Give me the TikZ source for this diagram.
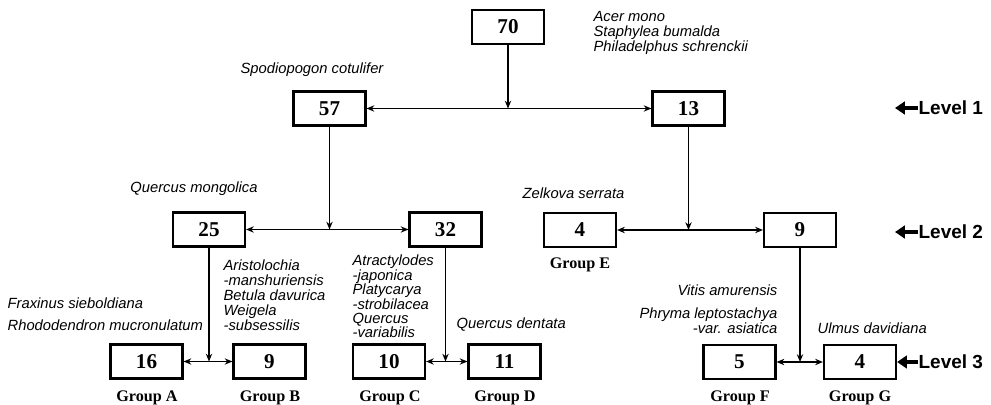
\documentclass[tikz,border=0pt]{standalone}
\usepackage{fontspec}
\setmainfont{Liberation Serif}
\setsansfont{Liberation Sans}
\usepackage{tikz}
\usetikzlibrary{arrows.meta,positioning,calc}

\begin{document}
\begin{tikzpicture}[x=0.025cm, y=-0.025cm, line width=0.9pt, >={Stealth[length=5.5pt,width=4.5pt]}]
  \tikzstyle{box} = [rectangle, draw, line width=1.5pt, minimum width=1.8cm, minimum height=0.85cm, font=\fontsize{15}{15}\selectfont\bfseries]
  \tikzstyle{sp} = [inner sep=0pt, align=left, font=\fontsize{10.5}{10.7}\selectfont\sffamily\itshape]
  \tikzstyle{grp} = [inner sep=0pt, font=\fontsize{11.5}{11.5}\selectfont\bfseries]
  \tikzstyle{lvl} = [inner sep=0pt, anchor=west, font=\fontsize{13.5}{13.5}\selectfont\sffamily\bfseries]
  \tikzstyle{lvlarrow} = [line width=2.5pt, -{Triangle[length=7pt,width=9pt]}]

  \useasboundingbox (0,0) rectangle (991,405);

  \node[box] (n70) at (508,27) {70};
  \node[box] (n57) at (329.5,108.5) {57};
  \node[box] (n13) at (688.5,108.5) {13};

  \node[box] (n25) at (209,229.5) {25};
  \node[box] (n32) at (445.5,229.5) {32};
  \node[box] (e4) at (580,230) {4};
  \node[box] (n9) at (800,230) {9};

  \node[box] (a16) at (146.5,361.5) {16};
  \node[box] (b9) at (269.5,361.5) {9};
  \node[box] (c10) at (389,361.5) {10};
  \node[box] (d11) at (504.5,361.5) {11};
  \node[box] (f5) at (739.5,362) {5};
  \node[box] (g4) at (860,362) {4};

  % species
  \node[sp] (s57) at (312,70) {Spodiopogon cotulifer};
  \node[sp, anchor=west] (s13) at (593,33) {Acer mono\\Staphylea bumalda\\Philadelphus schrenckii};
  \node[sp] (s25) at (194,189) {Quercus mongolica};
  \node[sp, anchor=west] (se) at (522,193) {Zelkova serrata};
  \node[sp, anchor=west] (sa1) at (7,303) {Fraxinus sieboldiana};
  \node[sp, anchor=west] (sa2) at (7,325) {Rhododendron mucronulatum};
  \node[sp, anchor=west] (sb) at (223,295) {Aristolochia\\-manshuriensis\\Betula davurica\\Weigela\\-subsessilis};
  \node[sp, anchor=west, font=\fontsize{10.5}{10.3}\selectfont\sffamily\itshape] (sc) at (352,296.5) {Atractylodes\\-japonica\\Platycarya\\-strobilacea\\Quercus\\-variabilis};
  \node[sp, anchor=west] (sd) at (456,325) {Quercus dentata};
  \node[sp, anchor=east] (sf1) at (778,290) {Vitis amurensis};
  \node[sp, anchor=east, align=right, font=\fontsize{10.5}{9}\selectfont\sffamily\itshape] (sf2) at (778,321) {Phryma leptostachya\\-var. asiatica};
  \node[sp, anchor=west] (sg) at (817,328) {Ulmus davidiana};

  % groups
  \node[grp] (ga) at (147,398) {Group A};
  \node[grp] (gb) at (270,398) {Group B};
  \node[grp] (gc) at (390,398) {Group C};
  \node[grp] (gd) at (505,398) {Group D};
  \node[grp] (ge) at (580,265) {Group E};
  \node[grp] (gf) at (740,398) {Group F};
  \node[grp] (gg) at (860,398) {Group G};

  % levels
  \node[lvl] (lev1) at (918,108) {Level 1};
  \node[lvl] (lev2) at (918,232) {Level 2};
  \node[lvl] (lev3) at (918,362) {Level 3};
  \coordinate (tip1) at (895,108);
  \coordinate (tip2) at (895,232);
  \draw[lvlarrow] (lev1.west) -- (tip1);
  \draw[lvlarrow] (lev2.west) -- (tip2);
  \draw[lvlarrow] (lev3.west) -- (g4.east);

  % splits
  \draw[->] (n70) -- (n70 |- n57.east);
  \draw[<->] (n57) -- (n13);
  \draw[->] (n57) -- (n57 |- n25.east);
  \draw[<->] (n25) -- (n32);
  \draw[->] (n13) -- (n13 |- e4.east);
  \draw[<->] (e4) -- (n9);
  \draw[->] (n25) -- (n25 |- a16.east);
  \draw[<->] (a16) -- (b9);
  \draw[->] (n32) -- (n32 |- c10.east);
  \draw[<->] (c10) -- (d11);
  \draw[->] (n9) -- (n9 |- f5.east);
  \draw[<->] (f5) -- (g4);
\end{tikzpicture}
\end{document}
